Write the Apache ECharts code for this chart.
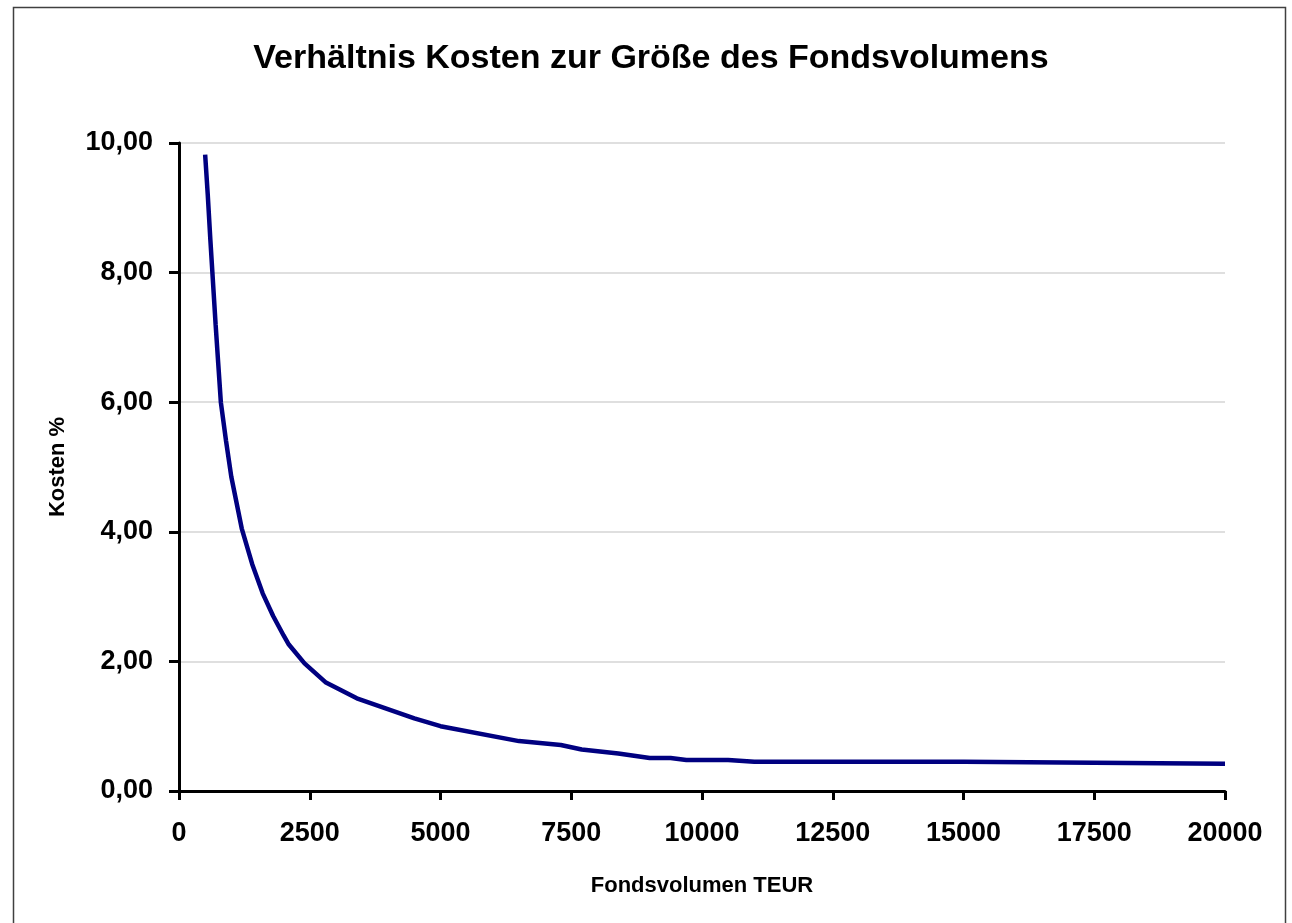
<!DOCTYPE html>
<html>
<head>
<meta charset="utf-8">
<script src="https://cdn.jsdelivr.net/npm/echarts@6/dist/echarts.min.js"></script>
<style>
  html, body { margin: 0; padding: 0; background: #fff; }
  #chart { width: 1292px; height: 923px; }
</style>
</head>
<body>
<div id="chart"></div>
<script>
// Fondsvolumen in TEUR
const volumen = [500, 550, 600, 700, 750, 800, 900, 1000, 1200, 1400, 1600, 1800, 2000, 2100,
  2400, 2800, 3400, 4500, 5000, 6500, 7300, 7700, 8400, 9000, 9400, 9700, 10000, 10500, 11000, 15000, 20000];
// Kosten in %
const kosten = [9.82, 9.2, 8.5, 7.2, 6.6, 6.0, 5.4, 4.85, 4.05, 3.5, 3.05, 2.7, 2.4, 2.26,
  1.97, 1.68, 1.43, 1.12, 1.0, 0.77, 0.71, 0.64, 0.58, 0.51, 0.51, 0.48, 0.48, 0.48, 0.45, 0.45, 0.42];
const xTicks = [0, 2500, 5000, 7500, 10000, 12500, 15000, 17500, 20000];
const yTicks = [0, 2, 4, 6, 8, 10];

const font = 'Liberation Sans, Arial, sans-serif';
const chart = echarts.init(document.getElementById('chart'));

chart.setOption({
  animation: false,
  backgroundColor: '#fff',
  graphic: [{
    type: 'rect',
    shape: { x: 13.5, y: 7.5, width: 1272, height: 930 },
    style: { fill: 'none', stroke: '#404040', lineWidth: 1.5 }
  }],
  title: {
    text: 'Verhältnis Kosten zur Größe des Fondsvolumens',
    left: 646,
    textAlign: 'center',
    top: 37,
    textStyle: { fontFamily: font, fontWeight: 'bold', fontSize: 34, color: '#000' }
  },
  grid: { left: 179, right: 67, top: 143, bottom: 132 },
  xAxis: {
    type: 'value',
    min: xTicks[0],
    max: xTicks[xTicks.length - 1],
    interval: 2500,
    name: 'Fondsvolumen TEUR',
    nameLocation: 'middle',
    nameGap: 84,
    nameTextStyle: { fontFamily: font, fontWeight: 'bold', fontSize: 22, color: '#000' },
    axisLine: { lineStyle: { color: '#000', width: 3 } },
    axisTick: { show: true, length: 9, lineStyle: { color: '#000', width: 3 } },
    axisLabel: {
      fontFamily: font, fontWeight: 'bold', fontSize: 27, color: '#000', margin: 29,
      formatter: v => String(v)
    },
    splitLine: { show: false }
  },
  yAxis: {
    type: 'value',
    min: yTicks[0],
    max: yTicks[yTicks.length - 1],
    interval: 2,
    name: 'Kosten %',
    nameLocation: 'middle',
    nameGap: 110,
    nameTextStyle: { fontFamily: font, fontWeight: 'bold', fontSize: 22, color: '#000' },
    axisLine: { show: true, lineStyle: { color: '#000', width: 3 } },
    axisTick: { show: true, length: 10, lineStyle: { color: '#000', width: 3 } },
    axisLabel: {
      fontFamily: font, fontWeight: 'bold', fontSize: 27, color: '#000', margin: 26,
      formatter: v => v.toFixed(2).replace('.', ',')
    },
    splitLine: { show: true, lineStyle: { color: '#d4d4d4', width: 1.5 } }
  },
  series: [{
    type: 'line',
    data: volumen.map((v, i) => [v, kosten[i]]),
    showSymbol: false,
    lineStyle: { color: '#000080', width: 4.5 },
    itemStyle: { color: '#000080' }
  }]
});
</script>
</body>
</html>
